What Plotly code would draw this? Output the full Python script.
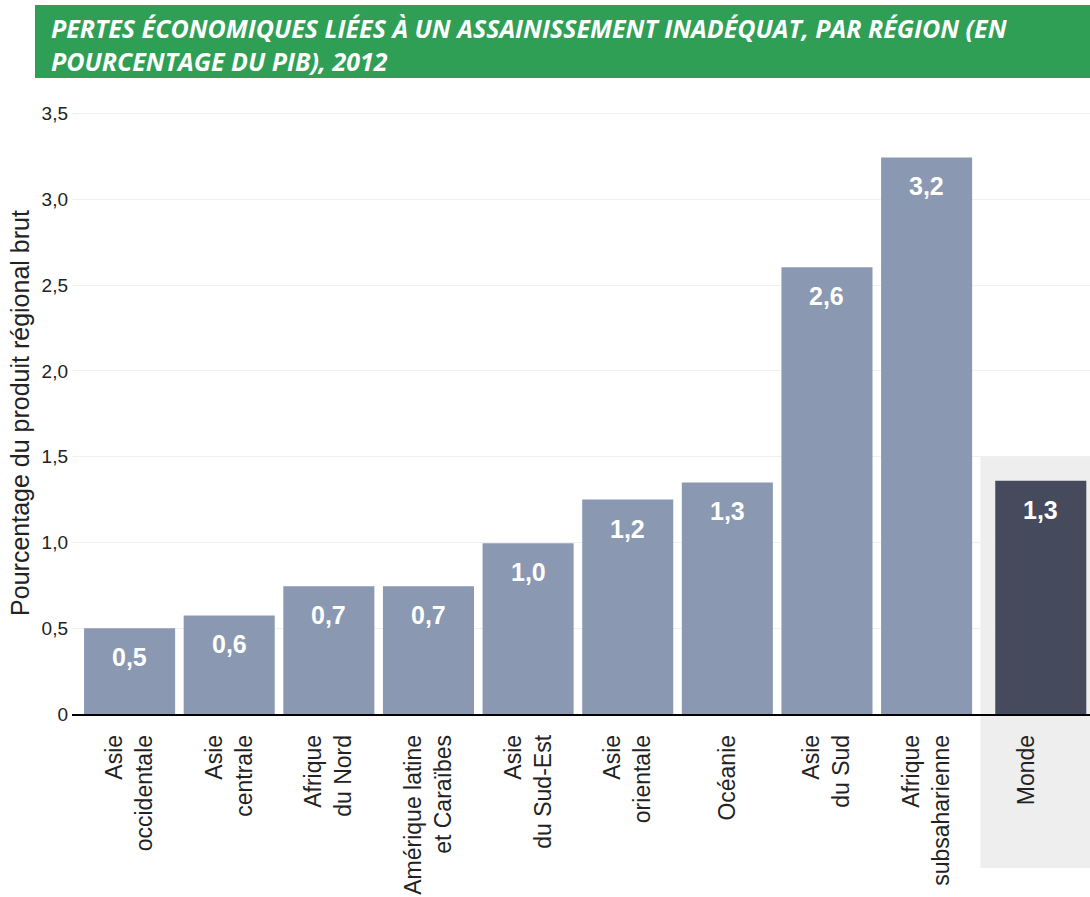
import plotly.graph_objects as go

# données
regions = [
    "Asie<br>occidentale", "Asie<br>centrale", "Afrique<br>du Nord",
    "Amérique latine<br>et Caraïbes", "Asie<br>du Sud-Est", "Asie<br>orientale",
    "Océanie", "Asie<br>du Sud", "Afrique<br>subsaharienne",
]
region_values = [0.5, 0.575, 0.745, 0.745, 0.995, 1.25, 1.35, 2.605, 3.245]
region_labels = ["0,5", "0,6", "0,7", "0,7", "1,0", "1,2", "1,3", "2,6", "3,2"]

world = "Monde"
world_value = 1.36
world_label = "1,3"

y_tickvals = [0, 0.5, 1.0, 1.5, 2.0, 2.5, 3.0, 3.5]
y_ticktext = ["0", "0,5", "1,0", "1,5", "2,0", "2,5", "3,0", "3,5"]

title_lines = [
    "PERTES ÉCONOMIQUES LIÉES À UN ASSAINISSEMENT INADÉQUAT, PAR RÉGION (EN",
    "POURCENTAGE DU PIB), 2012",
]
y_title = "Pourcentage du produit régional brut"

BAR = "#8a99b1"
DARK = "#454b5c"
GREEN = "#2e9f55"
PANEL = "#edeeed"
FONT = "Liberation Sans, Arial, sans-serif"

W, H = 1090, 897
L, R, T, B = 72, 0, 112, 183
plot_w, plot_h = W - L - R, H - T - B
Y_MAX = 3.51

def px_x(p):
    return (p - L) / plot_w

def px_y(p):
    return (H - B - p) / plot_h

categories = regions + [world]
bar_w = 0.914
world_off = 0.146
unit_px = plot_w / (9.64 + 0.578)

fig = go.Figure()
fig.add_trace(go.Bar(
    x=regions, y=region_values, width=bar_w,
    marker=dict(color=BAR, line_width=0), hoverinfo="skip", showlegend=False))
fig.add_trace(go.Bar(
    x=[world], y=[world_value], width=bar_w, offset=-bar_w / 2 + world_off,
    marker=dict(color=DARK, line_width=0), hoverinfo="skip", showlegend=False))

# étiquettes de valeur dans les barres
for cat, v, lab in zip(regions, region_values, region_labels):
    fig.add_annotation(x=cat, y=v, yshift=-29, text=f"<b>{lab}</b>", showarrow=False,
                       font=dict(family=FONT, size=25, color="white"))
fig.add_annotation(x=world, y=world_value, yshift=-29, xshift=world_off * unit_px,
                   text=f"<b>{world_label}</b>", showarrow=False,
                   font=dict(family=FONT, size=25, color="white"))

# panneau gris derrière « Monde »
fig.add_shape(type="rect", xref="x", yref="paper", x0=8.54, x1=9.64,
              y0=px_y(868), y1=1.5 / Y_MAX, fillcolor=PANEL, line_width=0, layer="below")

# bandeau de titre
fig.add_shape(type="rect", xref="paper", yref="paper", x0=px_x(35), x1=px_x(1090),
              y0=px_y(78), y1=px_y(5), fillcolor=GREEN, line_width=0)
for i, line in enumerate(title_lines):
    fig.add_annotation(xref="paper", yref="paper", x=px_x(49), y=px_y(28 + 33 * i),
                       xanchor="left", yanchor="middle", align="left", showarrow=False,
                       text=f"<b><i>{line}</i></b>",
                       font=dict(family="Open Sans, sans-serif", size=25, color="white"))

fig.update_layout(
    width=W, height=H, margin=dict(l=L, r=R, t=T, b=B),
    paper_bgcolor="white", plot_bgcolor="rgba(0,0,0,0)",
    barmode="overlay", font=dict(family=FONT, color="#222"),
)
fig.update_xaxes(
    type="category", categoryorder="array", categoryarray=categories,
    range=[-0.578, 9.64], tickangle=-90, ticklabelstandoff=10,
    tickfont=dict(family=FONT, size=23, color="#222"),
    showline=True, linecolor="black", linewidth=1.5, showgrid=False, ticks="",
)
fig.update_yaxes(
    range=[0, Y_MAX], tickvals=y_tickvals, ticktext=y_ticktext, ticklabelstandoff=3,
    tickfont=dict(family=FONT, size=19, color="#222"),
    showgrid=True, gridcolor="#f0f0f0", gridwidth=1, zeroline=False,
    title=dict(text=y_title, font=dict(family=FONT, size=25, color="#222"), standoff=4),
)

fig.write_html("out.html", config={"displayModeBar": False},
               post_script="document.body.style.margin='0';")
